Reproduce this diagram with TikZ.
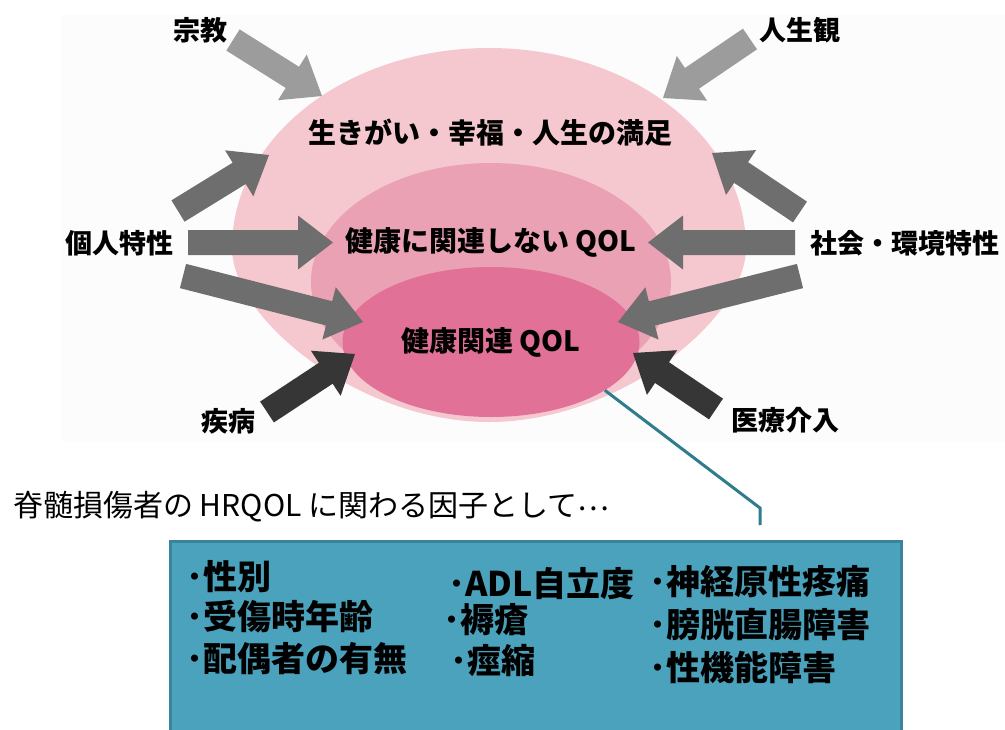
\documentclass[tikz,border=0pt]{standalone}
\usepackage{fontspec}
\newfontfamily\jp{Noto Sans CJK JP}
\usetikzlibrary{calc,shapes.geometric}
\definecolor{bgfaint}{HTML}{FCFCFC}
\definecolor{pinkA}{HTML}{F5C8CF}
\definecolor{pinkB}{HTML}{EBA1B4}
\definecolor{pinkC}{HTML}{E27198}
\definecolor{grayL}{HTML}{9C9C9C}
\definecolor{grayM}{HTML}{6E6E6E}
\definecolor{grayD}{HTML}{363636}
\definecolor{linecol}{HTML}{2F7D8C}
\definecolor{boxfill}{HTML}{4AA2BC}
\definecolor{boxline}{HTML}{3A8497}
\newcommand{\blockarrow}[3]{%
  \coordinate (hb) at ($(#3)!35pt!(#2)$);
  \fill[#1] ($(#2)!12.5pt!90:(#3)$) -- ($(hb)!12.5pt!-90:(#2)$) -- ($(hb)!27pt!-90:(#2)$) -- (#3) -- ($(hb)!27pt!90:(#2)$) -- ($(hb)!12.5pt!90:(#2)$) -- ($(#2)!12.5pt!-90:(#3)$) -- cycle;}
\tikzset{
  blob/.style={ellipse, inner sep=0pt, draw=none},
  lab/.style={font=\jp\bfseries\fontsize{27}{30}\selectfont, inner sep=0pt, text=black},
  intext/.style={font=\jp\bfseries\fontsize{28}{30}\selectfont, inner sep=0pt, text=black},
  item/.style={font=\jp\bfseries\fontsize{34}{36}\selectfont, inner sep=0pt, anchor=west, text=black},
  subt/.style={font=\jp\fontsize{30}{32}\selectfont, inner sep=0pt, anchor=west, text=black},
}
\begin{document}
\begin{tikzpicture}[x=1pt,y=-1pt]
\useasboundingbox (0,0) rectangle (1005,729);
\fill[white] (0,0) rectangle (1005,729);
\fill[bgfaint] (62,15) rectangle (1005,442);
% outer egg-shaped region
\fill[pinkA] (232,248) .. controls (232,137) and (347,48) .. (489,48)
  .. controls (631,48) and (746,137) .. (746,248)
  .. controls (746,320) and (618,422) .. (489,422)
  .. controls (360,422) and (232,320) .. cycle;
\node[blob, fill=pinkB, minimum width=360pt, minimum height=238pt] (middle) at (491,282) {};
\node[blob, fill=pinkC, minimum width=297pt, minimum height=150pt] (inner) at (491,342) {};
\node[intext] (tlife) at (490,133) {生きがい・幸福・人生の満足};
\node[intext] (tnon) at (491,242) {健康に関連しない QOL};
\node[intext] (thr) at (491,342) {健康関連 QOL};
% labels
\node[lab] (relig) at (200,30) {宗教};
\node[lab] (view) at (800,30) {人生観};
\node[lab] (pers) at (119,243) {個人特性};
\node[lab] (soc) at (905,243) {社会・環境特性};
\node[lab] (dis) at (228,421) {疾病};
\node[lab] (med) at (785,420) {医療介入};
% arrow end points
\coordinate (a1t) at (233,40);   \coordinate (a1h) at (322,96);
\coordinate (a2t) at (750,39);   \coordinate (a2h) at (663,98);
\coordinate (a3t) at (178,211);  \coordinate (a3h) at (269,155);
\coordinate (a4t) at (188,242.5);\coordinate (a4h) at (333,242.5);
\coordinate (a5t) at (183,276);  \coordinate (a5h) at (363,322);
\coordinate (a6t) at (267,412);  \coordinate (a6h) at (355,354);
\coordinate (a7t) at (800,212);  \coordinate (a7h) at (712,153);
\coordinate (a8t) at (795,242.5);\coordinate (a8h) at (648,242.5);
\coordinate (a9t) at (800,276);  \coordinate (a9h) at (618,322);
\coordinate (a10t) at (716,409); \coordinate (a10h) at (633,353);
\blockarrow{grayL}{a1t}{a1h}
\blockarrow{grayL}{a2t}{a2h}
\blockarrow{grayM}{a3t}{a3h}
\blockarrow{grayM}{a4t}{a4h}
\blockarrow{grayM}{a5t}{a5h}
\blockarrow{grayD}{a6t}{a6h}
\blockarrow{grayM}{a7t}{a7h}
\blockarrow{grayM}{a8t}{a8h}
\blockarrow{grayM}{a9t}{a9h}
\blockarrow{grayD}{a10t}{a10h}
% callout
\node[subt] (sub) at (13,507) {脊髄損傷者の HRQOL に関わる因子として\raisebox{0.2em}{⋯}};
\node[draw=boxline, line width=3pt, fill=boxfill, rectangle, minimum width=731pt, minimum height=220pt, anchor=north west, inner sep=0pt] (box) at (169,540) {};
\coordinate (bend) at (760,508);
\coordinate (lend) at (760,525);
\draw[linecol, line width=3pt] (inner.-23) -- (bend) -- (lend);
% items
\node[item] (i1) at (186,577) {･性別};
\node[item] (i2) at (186,617) {･受傷時年齢};
\node[item] (i3) at (186,659) {･配偶者の有無};
\node[item] (i4) at (448,584) {･ADL自立度};
\node[item] (i5) at (443,620) {･褥瘡};
\node[item] (i6) at (450,661) {･痙縮};
\node[item] (i7) at (649,582) {･神経原性疼痛};
\node[item] (i8) at (649,625) {･膀胱直腸障害};
\node[item] (i9) at (649,667) {･性機能障害};
\end{tikzpicture}
\end{document}
